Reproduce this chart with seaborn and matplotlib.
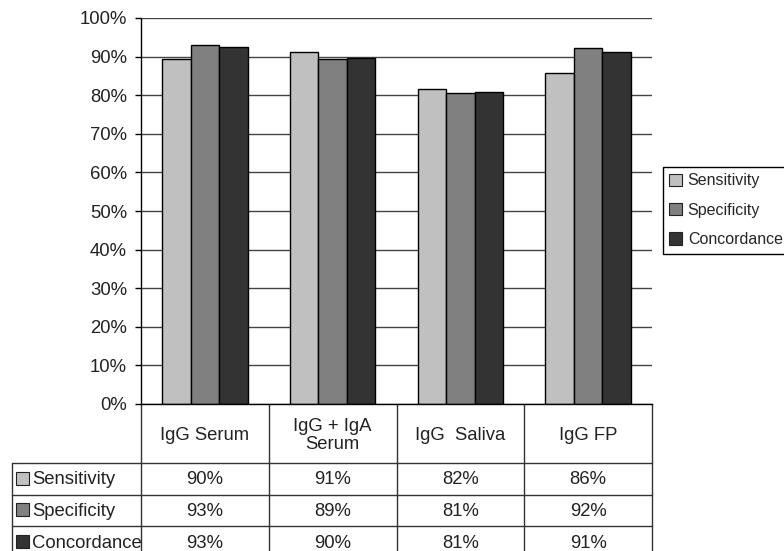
import matplotlib
matplotlib.use("Agg")
import matplotlib.pyplot as plt
import seaborn as sns
import pandas as pd
from matplotlib.lines import Line2D
from matplotlib.patches import Rectangle, Patch
from matplotlib.transforms import blended_transform_factory

# 데이터
groups = ["IgG Serum", "IgG + IgA\nSerum", "IgG  Saliva", "IgG FP"]
measures = ["Sensitivity", "Specificity", "Concordance"]
sensitivity = [89.5, 91.2, 81.6, 85.8]
specificity = [93.1, 89.4, 80.6, 92.2]
concordance = [92.5, 89.6, 80.8, 91.2]
table_sensitivity = ["90%", "91%", "82%", "86%"]
table_specificity = ["93%", "89%", "81%", "92%"]
table_concordance = ["93%", "90%", "81%", "91%"]
colors = ["#c0c0c0", "#808080", "#333333"]
yticks = list(range(0, 101, 10))

df = pd.DataFrame({
    "group": groups * 3,
    "measure": [m for m in measures for _ in groups],
    "value": sensitivity + specificity + concordance,
})

sns.set_theme(style="white")
plt.rcParams["font.family"] = ["Liberation Sans", "DejaVu Sans"]

fig = plt.figure(figsize=(7.84, 5.51), dpi=100)
ax = fig.add_axes([141 / 784, 1 - 404 / 551, 511 / 784, 386 / 551])

sns.barplot(data=df, x="group", y="value", hue="measure", palette=colors,
            width=0.67, saturation=1, edgecolor="black", linewidth=1,
            legend=False, ax=ax)

ax.set_xlim(-0.5, 3.5)
ax.set_ylim(0, 100)
ax.set_yticks(yticks)
ax.set_yticklabels([f"{v}%" for v in yticks])
ax.set_xticks([])
ax.set_xlabel("")
ax.set_ylabel("")
ax.yaxis.grid(True, color="#444444", linewidth=1)
ax.set_axisbelow(True)
for s in ["top", "right"]:
    ax.spines[s].set_visible(False)
for s in ["left", "bottom"]:
    ax.spines[s].set_color("black")
    ax.spines[s].set_linewidth(1)
ax.tick_params(axis="y", left=True, length=4, width=1, color="black",
               direction="out", pad=6, labelsize=13.3, labelcolor="#222222")

# 데이터 테이블 (엑셀 스타일)
tr = blended_transform_factory(ax.transData, ax.transAxes)
px = 1 / 386
ux = 1 / 127.75
xleft = -0.5 - 129 * ux
hdr_bot = -59 * px
row_lines = [hdr_bot, -91 * px, -122 * px]
bottom = -160 * px
lc = "#333333"
fs = 13.3

for xv in [-0.5, 0.5, 1.5, 2.5, 3.5]:
    ax.add_line(Line2D([xv, xv], [0, bottom], transform=tr, color=lc, lw=1, clip_on=False))
ax.add_line(Line2D([xleft, xleft], [hdr_bot, bottom], transform=tr, color=lc, lw=1, clip_on=False))
for yv in row_lines:
    ax.add_line(Line2D([xleft, 3.5], [yv, yv], transform=tr, color=lc, lw=1, clip_on=False))

for i, g in enumerate(groups):
    ax.text(i, hdr_bot / 2 - 2 * px, g, transform=tr, ha="center", va="center",
            fontsize=fs, color="#222222", linespacing=1.05)

row_centers = [-76 * px, -107.5 * px, -139.5 * px]
rows = [table_sensitivity, table_specificity, table_concordance]
for yc, vals, name, c in zip(row_centers, rows, measures, colors):
    ax.add_patch(Rectangle((-0.5 - 125 * ux, yc + 2 * px - 6.5 * px), 13 * ux, 13 * px,
                           transform=tr, facecolor=c, edgecolor="#222222", lw=0.8, clip_on=False))
    ax.text(-0.5 - 109 * ux, yc, name, transform=tr, ha="left", va="center",
            fontsize=fs, color="#222222")
    for i, v in enumerate(vals):
        ax.text(i, yc, v, transform=tr, ha="center", va="center",
                fontsize=fs, color="#222222")

handles = [Patch(facecolor=c, edgecolor="#222222", lw=0.8) for c in colors]
leg = ax.legend(handles, measures, loc="upper left", bbox_to_anchor=(1 + 11 * ux / 4, 237 * px),
                frameon=True, fancybox=False, edgecolor="black", framealpha=1,
                fontsize=11.5, handlelength=0.8, handleheight=0.8, handletextpad=0.35,
                borderpad=0.4, labelspacing=0.9, borderaxespad=0)
leg.get_frame().set_linewidth(1)

fig.savefig("out.png", dpi=100)
